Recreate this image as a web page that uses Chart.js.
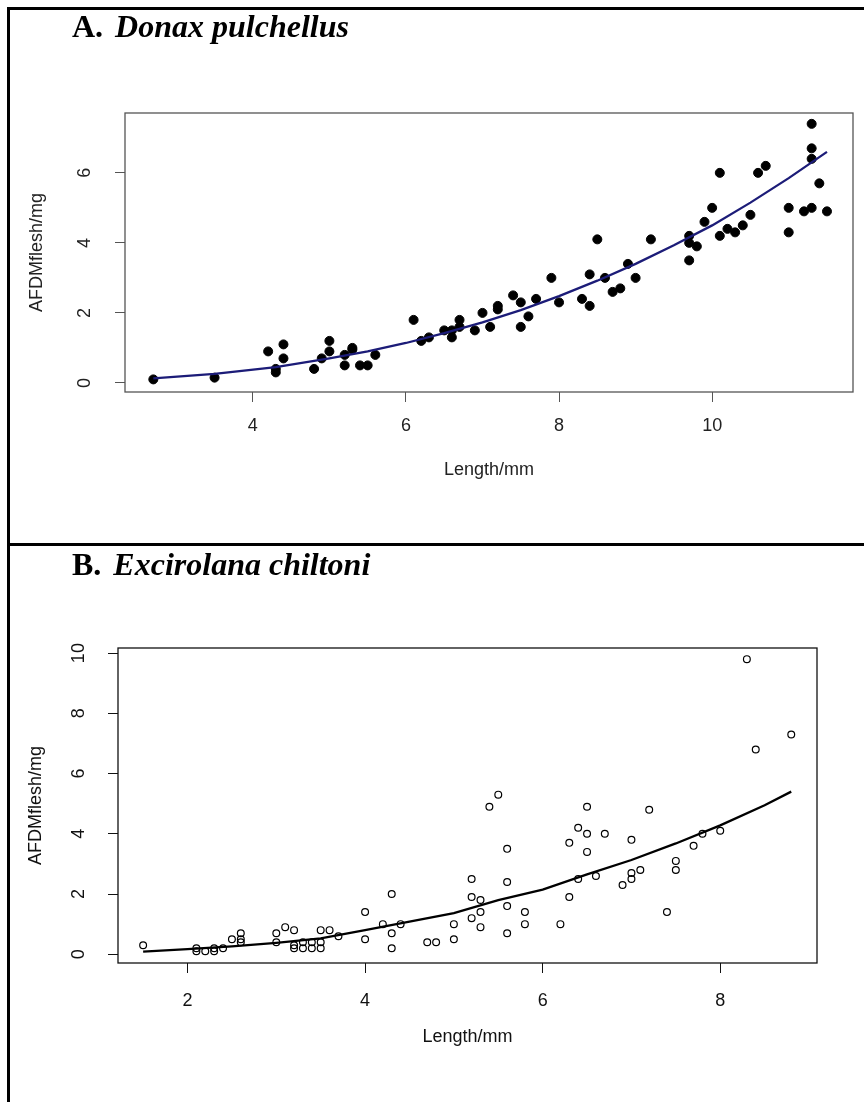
<!DOCTYPE html>
<html lang="en">
<head>
<meta charset="UTF-8">
<title>AFDM flesh vs length</title>
<script src="https://cdn.jsdelivr.net/npm/chart.js@4.4.0/dist/chart.umd.min.js"></script>
<style>
  body { margin: 0; background: #fff; width: 864px; height: 1102px; position: relative; overflow: hidden; }
  .frame { position: absolute; left: 7px; top: 7px; width: 900px; height: 1200px; border-left: 3px solid #000; border-top: 3px solid #000; }
  .sep { position: absolute; left: 7px; top: 543px; width: 900px; height: 3px; background: #000; }
  .title { position: absolute; left: 72px; z-index: 2; font-family: "Liberation Serif", "Times New Roman", serif;
           font-size: 32px; font-weight: bold; line-height: 32px; color: #000; }
  .title i { margin-left: 12px; }
  canvas { position: absolute; left: 0; }
</style>
</head>
<body>
<div class="frame"></div>
<div class="sep"></div>
<div class="title" style="top:10px">A.<i>Donax pulchellus</i></div>
<div class="title" style="top:548px">B.<i>Excirolana chiltoni</i></div>
<canvas id="chartA" width="864" height="543" style="top:0"></canvas>
<canvas id="chartB" width="864" height="556" style="top:546px"></canvas>

<script>
    // A. Donax pulchellus
    var donaxLength = [2.7, 3.5, 4.2, 4.4, 4.4, 4.3, 4.3, 4.8, 5.0, 5.0, 4.9, 5.2, 5.2, 5.3, 5.3, 5.4, 5.5, 5.6,
        6.1, 6.2, 6.3, 6.5, 6.6, 6.6, 6.7, 6.7, 6.9, 7.0, 7.1, 7.2, 7.2, 7.4, 7.5, 7.5, 7.6, 7.7, 7.9, 8.0,
        8.3, 8.4, 8.4, 8.5, 8.6, 8.7, 8.8, 8.9, 9.0, 9.2, 9.7, 9.7, 9.7, 9.8, 9.9, 10.0, 10.1, 10.1, 10.2,
        10.3, 10.4, 10.5, 10.6, 10.7, 11.0, 11.0, 11.2, 11.3, 11.3, 11.3, 11.3, 11.4, 11.5];
    var donaxAfdm = [0.1, 0.15, 0.9, 1.1, 0.7, 0.3, 0.4, 0.4, 1.2, 0.9, 0.7, 0.5, 0.8, 1.0, 0.95, 0.5, 0.5, 0.8,
        1.8, 1.2, 1.3, 1.5, 1.3, 1.5, 1.8, 1.6, 1.5, 2.0, 1.6, 2.2, 2.1, 2.5, 2.3, 1.6, 1.9, 2.4, 3.0, 2.3,
        2.4, 2.2, 3.1, 4.1, 3.0, 2.6, 2.7, 3.4, 3.0, 4.1, 4.2, 4.0, 3.5, 3.9, 4.6, 5.0, 6.0, 4.2, 4.4,
        4.3, 4.5, 4.8, 6.0, 6.2, 5.0, 4.3, 4.9, 5.0, 7.4, 6.7, 6.4, 5.7, 4.9];
    var donaxFitLength = [2.7, 3.5, 4.3, 5.0, 5.5, 6.0, 6.5, 7.0, 7.5, 8.0, 8.5, 9.0, 9.5, 10.0, 10.5, 11.0, 11.5];
    var donaxFitAfdm = [0.13, 0.26, 0.45, 0.7, 0.9, 1.14, 1.42, 1.73, 2.08, 2.48, 2.92, 3.4, 3.93, 4.5, 5.15, 5.85, 6.6];
    var donaxXTicks = [4, 6, 8, 10];
    var donaxYTicks = [0, 2, 4, 6];

    // B. Excirolana chiltoni
    var excLength = [1.5, 2.1, 2.1, 2.2, 2.3, 2.3, 2.4, 2.5, 2.6, 2.6, 2.6, 3.0, 3.0, 3.1, 3.2, 3.2, 3.2, 3.3,
        3.3, 3.4, 3.4, 3.5, 3.5, 3.5, 3.6, 3.7, 4.0, 4.0, 4.2, 4.3, 4.3, 4.3, 4.4, 4.7, 4.8, 5.0, 5.0, 5.2,
        5.2, 5.2, 5.3, 5.3, 5.3, 5.4, 5.5, 5.6, 5.6, 5.6, 5.6, 5.8, 5.8, 6.2, 6.3, 6.3, 6.4, 6.4, 6.5, 6.5,
        6.5, 6.6, 6.7, 6.9, 7.0, 7.0, 7.0, 7.1, 7.2, 7.4, 7.5, 7.5, 7.7, 7.8, 8.0, 8.3, 8.4, 8.8];
    var excAfdm = [0.3, 0.2, 0.1, 0.1, 0.2, 0.1, 0.2, 0.5, 0.7, 0.5, 0.4, 0.7, 0.4, 0.9, 0.8, 0.3, 0.2, 0.4,
        0.2, 0.4, 0.2, 0.4, 0.2, 0.8, 0.8, 0.6, 1.4, 0.5, 1.0, 2.0, 0.7, 0.2, 1.0, 0.4, 0.4, 1.0, 0.5, 2.5,
        1.9, 1.2, 1.8, 1.4, 0.9, 4.9, 5.3, 3.5, 2.4, 1.6, 0.7, 1.4, 1.0, 1.0, 3.7, 1.9, 4.2, 2.5, 4.9, 4.0,
        3.4, 2.6, 4.0, 2.3, 3.8, 2.7, 2.5, 2.8, 4.8, 1.4, 3.1, 2.8, 3.6, 4.0, 4.1, 9.8, 6.8, 7.3];
    var excFitLength = [1.5, 2.0, 2.5, 3.0, 3.5, 4.0, 4.5, 5.0, 5.5, 6.0, 6.5, 7.0, 7.5, 8.0, 8.5, 8.8];
    var excFitAfdm = [0.09, 0.17, 0.26, 0.38, 0.53, 0.8, 1.08, 1.37, 1.8, 2.15, 2.65, 3.13, 3.68, 4.28, 4.95, 5.4];
    var excXTicks = [2, 4, 6, 8];
    var excYTicks = [0, 2, 4, 6, 8, 10];

    function toXY(xs, ys) {
        var out = [];
        for (var i = 0; i < xs.length; i++) {
            out.push({x: xs[i], y: ys[i]});
        }
        return out;
    }

    // R style frame round the plot region
    function boxPlugin(color) {
        return {
            id: 'box',
            afterDatasetsDraw: function (chart) {
                var a = chart.chartArea;
                var ctx = chart.ctx;
                ctx.save();
                ctx.strokeStyle = color;
                ctx.lineWidth = 1.3;
                ctx.strokeRect(a.left, a.top, a.right - a.left, a.bottom - a.top);
                ctx.restore();
            }
        };
    }

    function drawPanel(id, p) {
        var font = {family: '"Liberation Sans", Arial, sans-serif', size: 18};
        new Chart(document.getElementById(id), {
            type: 'scatter',
            data: {
                datasets: [{
                    data: toXY(p.fitX, p.fitY),
                    showLine: true,
                    borderColor: p.lineColor,
                    borderWidth: 2.3,
                    pointRadius: 0,
                    fill: false,
                    tension: 0
                }, {
                    data: toXY(p.x, p.y),
                    pointRadius: p.radius,
                    pointBackgroundColor: p.fill,
                    pointBorderColor: '#000',
                    pointBorderWidth: p.pointBorder
                }]
            },
            options: {
                responsive: false,
                animation: false,
                events: [],
                layout: {padding: p.padding},
                plugins: {legend: {display: false}, tooltip: {enabled: false}},
                scales: {
                    x: {
                        type: 'linear',
                        min: p.xMin,
                        max: p.xMax,
                        afterBuildTicks: function (s) { s.ticks = p.xTicks.map(function (v) { return {value: v}; }); },
                        afterFit: function (s) { s.height = p.xAxisH; },
                        grid: {drawOnChartArea: false, drawTicks: true, tickLength: 10, color: p.axisColor},
                        border: {display: false},
                        ticks: {color: p.textColor, font: font, padding: p.xTickPad, maxRotation: 0},
                        title: {display: true, text: 'Length/mm', color: p.textColor, font: font,
                                padding: {top: 0, bottom: p.xTitlePad}}
                    },
                    y: {
                        type: 'linear',
                        min: p.yMin,
                        max: p.yMax,
                        afterBuildTicks: function (s) { s.ticks = p.yTicks.map(function (v) { return {value: v}; }); },
                        afterFit: function (s) { s.width = p.yAxisW; },
                        grid: {drawOnChartArea: false, drawTicks: true, tickLength: 10, color: p.axisColor},
                        border: {display: false},
                        ticks: {color: p.textColor, font: font, padding: p.yTickPad,
                                minRotation: 90, maxRotation: 90, crossAlign: 'center'},
                        title: {display: true, text: 'AFDMflesh/mg', color: p.textColor, font: font,
                                padding: {top: p.yTitlePad, bottom: 0}}
                    }
                }
            },
            plugins: [boxPlugin(p.axisColor)]
        });
    }

    drawPanel('chartA', {
        x: donaxLength, y: donaxAfdm, fitX: donaxFitLength, fitY: donaxFitAfdm,
        xTicks: donaxXTicks, yTicks: donaxYTicks,
        xMin: 2.33, xMax: 11.84, yMin: -0.26, yMax: 7.71,
        radius: 4.5, fill: '#000', pointBorder: 1, lineColor: '#1c1c78',
        axisColor: '#555', textColor: '#222',
        padding: {left: 25, right: 11, top: 113, bottom: 11},
        xAxisH: 140, yAxisW: 100, xTickPad: 13, yTickPad: 25, xTitlePad: 51, yTitlePad: 1
    });

    drawPanel('chartB', {
        x: excLength, y: excAfdm, fitX: excFitLength, fitY: excFitAfdm,
        xTicks: excXTicks, yTicks: excYTicks,
        xMin: 1.217, xMax: 9.09, yMin: -0.29, yMax: 10.17,
        radius: 3.4, fill: 'rgba(0,0,0,0)', pointBorder: 1.2, lineColor: '#000',
        axisColor: '#111', textColor: '#111',
        padding: {left: 25, right: 47, top: 102, bottom: 9},
        xAxisH: 130, yAxisW: 93, xTickPad: 17, yTickPad: 19, xTitlePad: 45, yTitlePad: 0
    });
</script>
</body>
</html>
